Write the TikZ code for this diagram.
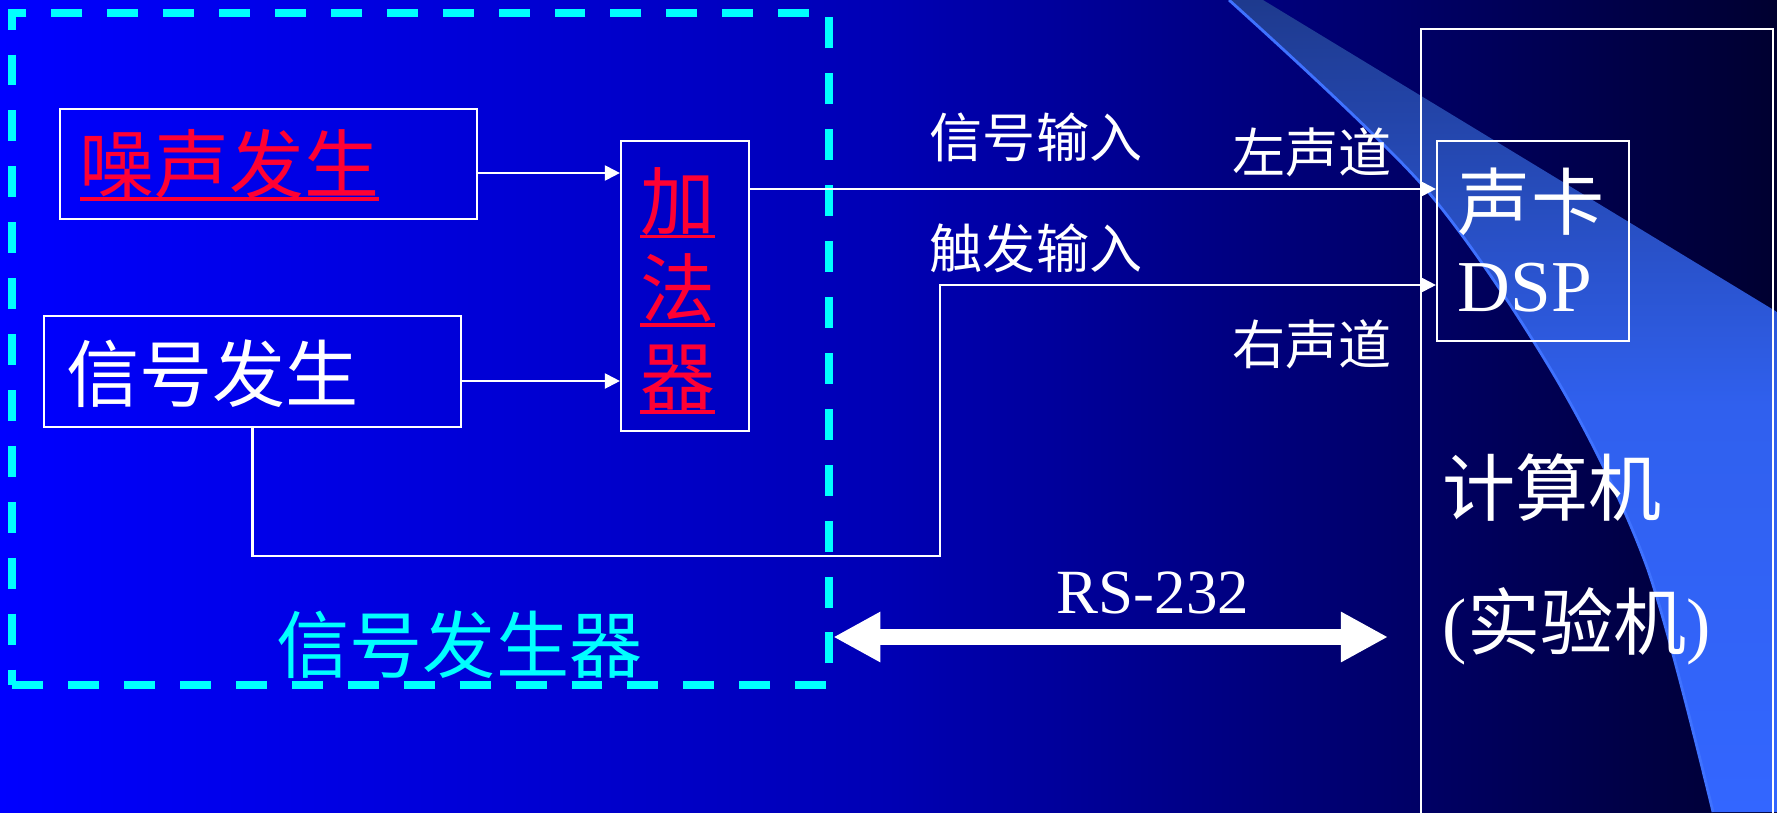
\documentclass[tikz,border=0pt]{standalone}
\usepackage{fontspec}
\setmainfont{Liberation Serif}
\newfontfamily\cjk{Noto Sans CJK SC}
\usetikzlibrary{arrows.meta,calc}
\definecolor{bgL}{HTML}{0000FF}
\definecolor{bgM}{HTML}{0000B4}
\definecolor{bgR}{HTML}{000030}
\definecolor{swA}{HTML}{1E3A8E}
\definecolor{swB}{HTML}{3060EE}
\definecolor{swC}{HTML}{3366FF}
\definecolor{swL}{HTML}{3F72FF}
\definecolor{myred}{HTML}{FF0033}
\definecolor{mycyan}{HTML}{00FFFF}
\tikzset{
  box/.style={draw=white, line width=0.6pt, inner sep=0pt},
  txt/.style={inner sep=0pt, text=white},
  big/.style={font=\cjk\fontsize{20.8pt}{25pt}\selectfont},
  small/.style={font=\cjk\fontsize{15.1pt}{18pt}\selectfont},
  conn/.style={draw=white, line width=0.6pt, -{Triangle[length=4.3pt,width=4.3pt]}},
  rsarrow/.style={draw=white, line width=4.55pt, {Triangle[length=13.4pt,width=13.4pt]}-{Triangle[length=13.4pt,width=13.4pt]}},
  uline/.style={draw=myred, line width=1.05pt}
}
\begin{document}
\begin{tikzpicture}[x=0.01cm,y=-0.01cm]
\useasboundingbox (0,0) rectangle (1777,812);
\clip (0,0) rectangle (1777,812);
% background
\shade[left color=bgL, right color=bgR, middle color=bgM] (0,0) rectangle (1777,812);
% swoosh
\shade[top color=swA, bottom color=swC, middle color=swB]
  plot[smooth] coordinates {(1229,0) (1424,187) (1557,380) (1647,567) (1713,812)}
  -- (1777,812) -- (1777,312) -- (1263,0) -- cycle;
\draw[swL, line width=0.8pt] plot[smooth] coordinates {(1229,0) (1424,187) (1557,380) (1647,567) (1713,812)};

% boxes
\node[draw=mycyan, line width=2.3pt, dash pattern=on 8.8pt off 7.1pt, inner sep=0pt,
      minimum width=8.164cm, minimum height=6.723cm] (gen) at (420.8,348.9) {};
\node[box, minimum width=4.17cm, minimum height=1.10cm] (noise) at (268.5,164) {};
\node[box, minimum width=4.17cm, minimum height=1.11cm] (sig) at (252.5,371.5) {};
\node[box, minimum width=1.28cm, minimum height=2.90cm] (adder) at (685,286) {};
\node[box, minimum width=3.52cm, minimum height=8.40cm] (pc) at (1597,449.5) {};
\node[box, minimum width=1.92cm, minimum height=2.00cm] (sc) at (1533,241) {};

% texts
\node[txt, text=myred, font=\cjk\fontsize{21.3pt}{25pt}\selectfont] (noiset) at (229.5,164.5) {噪声发生};
\node[txt, big] (sigt) at (212.5,373.5) {信号发生};
\node[txt, text=myred, align=center, font=\cjk\fontsize{21.3pt}{25pt}\selectfont] (addt) at (677.5,289) {加\\法\\器};
\node[txt, small] (t1) at (1036,137) {信号输入};
\node[txt, small] (t2) at (1312,152) {左声道};
\node[txt, small] (t3) at (1036,248) {触发输入};
\node[txt, small] (t4) at (1312,344) {右声道};
\node[txt, big] (t5) at (1531,202) {声卡};
\node[txt, font=\fontsize{20.8pt}{25pt}\selectfont] (t6) at (1525,288) {DSP};
\node[txt, big] (t7) at (1552,488) {计算机};
\node[txt, anchor=base, font=\fontsize{20.8pt}{25pt}\selectfont] (t8) at (1577,649) {({\cjk 实验机})};
\node[txt, anchor=base, font=\fontsize{17.9pt}{21pt}\selectfont] (t9) at (1153,613) {RS-232};
\node[txt, big, text=mycyan] (t10) at (459.5,645) {信号发生器};

% underlines
\draw[uline] (80,199) -- (379,199);
\draw[uline] (640,236.5) -- (715,236.5);
\draw[uline] (640,325) -- (715,325);
\draw[uline] (640,412) -- (715,412);

% connectors
\coordinate (r1) at (0,173);
\coordinate (r2) at (0,381);
\coordinate (r3) at (0,189);
\coordinate (r4) at (0,285);
\coordinate (r5) at (0,556);
\coordinate (r6) at (940,0);
\coordinate (r7) at (0,637);
\coordinate (rsend) at (1388,637);
\draw[conn] (noise.east |- r1) -- (adder.west |- r1);
\draw[conn] (sig.east |- r2) -- (adder.west |- r2);
\draw[conn] (adder.east |- r3) -- (sc.west |- r3);
\draw[conn] (sig.south) |- (r6 |- r5) |- (sc.west |- r4);
\draw[rsarrow] (gen.east |- r7) -- (rsend);
\end{tikzpicture}
\end{document}
